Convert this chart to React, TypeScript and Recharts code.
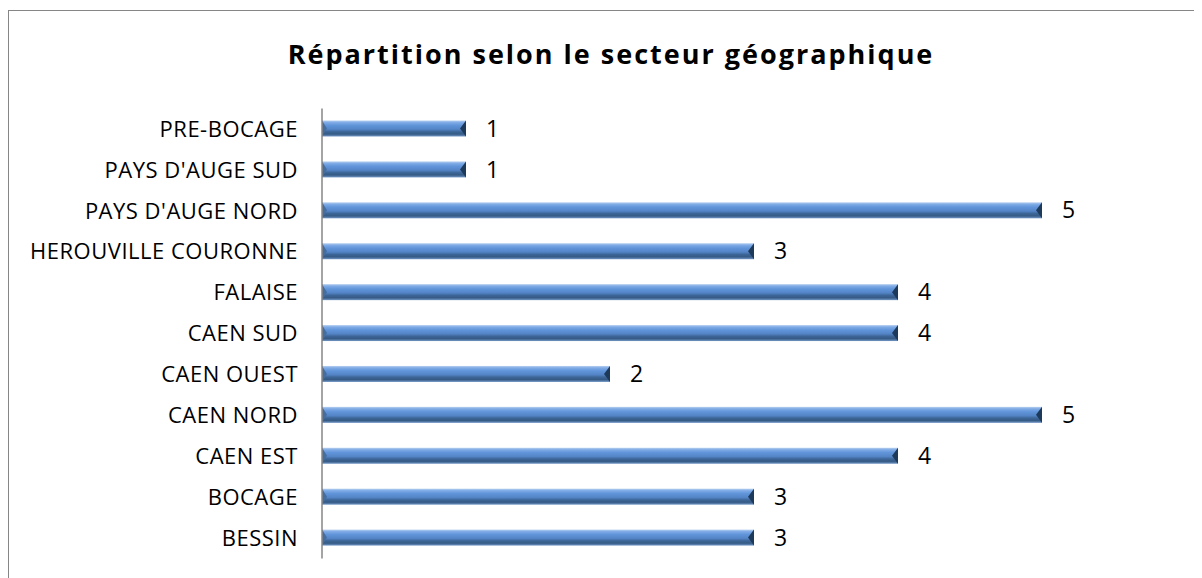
import { BarChart, Bar, XAxis, YAxis, LabelList } from 'recharts';

const secteurs = [
  'PRE-BOCAGE',
  "PAYS D'AUGE SUD",
  "PAYS D'AUGE NORD",
  'HEROUVILLE COURONNE',
  'FALAISE',
  'CAEN SUD',
  'CAEN OUEST',
  'CAEN NORD',
  'CAEN EST',
  'BOCAGE',
  'BESSIN',
];
const effectifs = [1, 1, 5, 3, 4, 4, 2, 5, 4, 3, 3];

const titre = 'Répartition selon le secteur géographique';

const data = secteurs.map((name, i) => ({ name, value: effectifs[i] }));

const FONT = '"Open Sans", "Noto Sans", sans-serif';

// bar with an Excel-like bevel
function BevelBar(props: any) {
  const { x, y, width, height, index } = props;
  if (!width || width <= 0) return null;
  const id = `bevel-${index}`;
  const mid = y + height / 2;
  return (
    <g>
      <defs>
        <linearGradient id={id} x1="0" y1="0" x2="0" y2="1">
          <stop offset="0%" stopColor="#b8d1f0" />
          <stop offset="12%" stopColor="#80abe6" />
          <stop offset="30%" stopColor="#6195da" />
          <stop offset="55%" stopColor="#5384c6" />
          <stop offset="70%" stopColor="#3d6698" />
          <stop offset="85%" stopColor="#355a84" />
          <stop offset="100%" stopColor="#7398c8" />
        </linearGradient>
      </defs>
      <rect x={x} y={y} width={width} height={height} fill={`url(#${id})`} />
      <polygon points={`${x},${y} ${x + 5},${mid} ${x},${y + height}`} fill="#456e9f" />
      <polygon
        points={`${x + width},${y} ${x + width - 6},${mid} ${x + width},${y + height}`}
        fill="#1e3a5a"
      />
    </g>
  );
}

export default function App() {
  return (
    <div style={{ paddingTop: 2 }}>
      <div
        style={{
          position: 'relative',
          width: 1196,
          height: 580,
          border: '1px solid #868686',
          background: '#fff',
          fontFamily: FONT,
        }}
      >
        <div
          style={{
            position: 'absolute',
            top: 29,
            left: 0,
            width: '100%',
            textAlign: 'center',
            fontSize: 27,
            fontWeight: 'bold',
            letterSpacing: 2,
            lineHeight: 1,
            color: '#000',
            paddingLeft: 8,
            boxSizing: 'border-box',
          }}
        >
          {titre}
        </div>
        <BarChart
          width={1196}
          height={580}
          data={data}
          layout="vertical"
          margin={{ top: 97.5, right: 19, left: 0, bottom: 32.5 }}
          barSize={16}
        >
          <XAxis type="number" domain={[0, 6]} hide />
          <YAxis
            type="category"
            dataKey="name"
            width={313}
            tickLine={false}
            tickSize={0}
            tickMargin={24}
            axisLine={{ stroke: '#868686', strokeWidth: 1.5 }}
            tick={{ fill: '#000', fontSize: 22, fontFamily: FONT, letterSpacing: 0.5 }}
            interval={0}
          />
          <Bar dataKey="value" shape={<BevelBar />} isAnimationActive={false}>
            <LabelList
              dataKey="value"
              position="right"
              offset={20}
              fill="#000"
              fontSize={23}
              fontFamily={FONT}
            />
          </Bar>
        </BarChart>
      </div>
    </div>
  );
}
